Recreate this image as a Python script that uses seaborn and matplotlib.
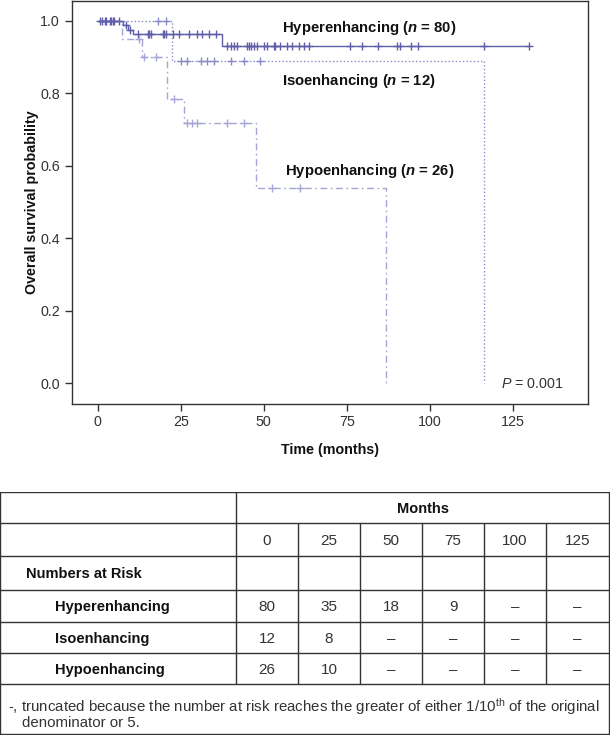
import numpy as np
import pandas as pd
import seaborn as sns
import matplotlib.pyplot as plt

# style first, fonts after (set_theme resets font.family)
sns.set_theme(style='white')
plt.rcParams['font.family'] = ['Liberation Sans', 'DejaVu Sans']
plt.rcParams['mathtext.fontset'] = 'custom'
plt.rcParams['mathtext.rm'] = 'Liberation Sans'
plt.rcParams['mathtext.it'] = 'Liberation Sans:italic'
plt.rcParams['mathtext.bf'] = 'Liberation Sans:bold'
plt.rcParams['mathtext.bfit'] = 'Liberation Sans:italic:bold'

# ---- data ----
groups = ['Hyperenhancing', 'Isoenhancing', 'Hypoenhancing']
group_n = [80, 12, 26]

hyper_times = [0, 7.5, 9, 10.5, 37.5, 130]
hyper_surv = [1.0, 0.9875, 0.975, 0.9625, 0.931, 0.931]
hyper_cens = [0.5, 1.2, 2, 2.5, 3.5, 4, 4.5, 5, 6.5, 8.5, 9.7,
              12, 15, 15.5, 16, 19.5, 20, 20.5, 22.5, 24.5, 27.5, 30, 31.5, 33.5, 35.5,
              39, 40, 41, 42, 45, 45.5, 46, 47, 48, 50, 51, 53, 53.5, 55, 57, 58.5,
              60.5, 62, 63.5, 76, 79.5, 84.5, 90, 91, 94.5, 96.5, 116.5, 130]

iso_times = [0, 22.3, 116.5]
iso_surv = [1.0, 0.889, 0.0]
iso_cens = [18, 20.5, 25, 27, 31, 33, 35, 40, 44, 49]

hypo_times = [0, 7.2, 13.3, 20.8, 26.0, 47.5, 86.7]
hypo_surv = [1.0, 0.95, 0.90, 0.784, 0.717, 0.537, 0.0]
hypo_cens = [12.5, 14, 17.5, 23, 27, 28.5, 30, 39, 44, 52.5, 61]

p_text = r'$P$ = 0.001'

table_months = [0, 25, 50, 75, 100, 125]
risk_hyper = ['80', '35', '18', '9', '–', '–']
risk_iso = ['12', '8', '–', '–', '–', '–']
risk_hypo = ['26', '10', '–', '–', '–', '–']
footnote = ['-, truncated because the number at risk reaches the greater of either 1/10$^{\\mathrm{th}}$ of the original',
            'denominator or 5.']

colors = ['#5e5eaa', '#8a8ac6', '#a6a6d6']
styles = ['-', (0, (1, 1.6)), (0, (5, 2.5, 1.2, 2.5))]

curves = [(hyper_times, hyper_surv, hyper_cens),
          (iso_times, iso_surv, iso_cens),
          (hypo_times, hypo_surv, hypo_cens)]

fig = plt.figure(figsize=(6.1, 7.35), dpi=100)
ax = fig.add_axes([0.1175, 0.451, 0.8459, 0.5476])

dark = '#333333'
for i, (t, s, c) in enumerate(curves):
    df = pd.DataFrame({'time': t, 'surv': s})
    sns.lineplot(data=df, x='time', y='surv', drawstyle='steps-post', estimator=None,
                 sort=False, color=colors[i], linestyle=styles[i], linewidth=1.0, ax=ax)
    idx = np.searchsorted(t, c, side='right') - 1
    cdf = pd.DataFrame({'time': c, 'surv': np.array(s)[idx]})
    sns.scatterplot(data=cdf, x='time', y='surv', marker='+', s=30, linewidth=1.0,
                    color=colors[i], ax=ax, zorder=3)

# group labels
label_pos = [(55.5, 0.98), (55.5, 0.832), (56.5, 0.584)]
for g, n, (lx, ly) in zip(groups, group_n, label_pos):
    ax.text(lx, ly, g + r' ($\mathbfit{n}$ = ' + str(n) + ')', fontsize=10.75,
            fontweight='bold', color='#111111', va='center', ha='left')
ax.text(140.3, -0.003, p_text, fontsize=10.25, color=dark, va='center', ha='right')

ax.set_xlim(-7.9, 147.6)
ax.set_ylim(-0.0566, 1.054)
ax.set_xticks(table_months)
ax.set_yticks([0.0, 0.2, 0.4, 0.6, 0.8, 1.0])
ax.set_yticklabels(['0.0', '0.2', '0.4', '0.6', '0.8', '1.0'])
ax.tick_params(axis='both', length=5, width=1, color=dark, labelcolor=dark,
               labelsize=10.25, pad=3.5, bottom=True, left=True)
for sp in ax.spines.values():
    sp.set_color(dark)
    sp.set_linewidth(1.0)
ax.set_xlabel('Time (months)', fontsize=10.25, fontweight='bold', color='#111111', labelpad=10)
ax.set_ylabel('Overall survival probability', fontsize=10.25, fontweight='bold',
              color='#111111', labelpad=1)

# ---- numbers-at-risk table ----
tax = fig.add_axes([0, 0, 1, 243 / 735])
col_w = [236, 62, 62, 62, 62, 62, 63]
row_h = [31, 33, 34, 32, 31, 31, 50]
col_e = np.concatenate([[0], np.cumsum(col_w)])
row_e = np.concatenate([[0], np.cumsum(row_h)])
tax.set_xlim(0, col_e[-1] + 1)
tax.set_ylim(row_e[-1] + 1, -0.5)
tax.axis('off')

lw = 1.0
# horizontal rules
for y in row_e:
    tax.plot([0, col_e[-1]], [y, y], color=dark, lw=lw)
# vertical rules
tax.plot([0, 0], [0, row_e[-1]], color=dark, lw=lw)
tax.plot([col_e[-1], col_e[-1]], [0, row_e[-1]], color=dark, lw=lw)
tax.plot([col_e[1], col_e[1]], [0, row_e[6]], color=dark, lw=lw)
for x in col_e[2:-1]:
    tax.plot([x, x], [row_e[1], row_e[6]], color=dark, lw=lw)

ctr = lambda k: (row_e[k] + row_e[k + 1]) / 2 + 1
cx = [(col_e[j] + col_e[j + 1]) / 2 for j in range(1, 7)]
tax.text((col_e[1] + col_e[-1]) / 2, ctr(0), 'Months', fontsize=10.5, fontweight='bold',
         color='#111111', ha='center', va='center')
for j, m in enumerate(table_months):
    tax.text(cx[j], ctr(1), str(m), fontsize=11, color=dark, ha='center', va='center')
tax.text(26, ctr(2), 'Numbers at Risk', fontsize=10.5, fontweight='bold', color='#111111',
         ha='left', va='center')
for k, (g, vals) in enumerate(zip(groups, [risk_hyper, risk_iso, risk_hypo])):
    tax.text(55, ctr(3 + k), g, fontsize=10.5, fontweight='bold', color='#111111',
             ha='left', va='center')
    for j, v in enumerate(vals):
        tax.text(cx[j], ctr(3 + k), v, fontsize=11, color=dark, ha='center', va='center')
tax.text(8, row_e[6] + 22, footnote[0], fontsize=10.8, color=dark, ha='left', va='center')
tax.text(22, row_e[6] + 39, footnote[1], fontsize=10.8, color=dark, ha='left', va='center')

fig.savefig('out.png', dpi=100)
